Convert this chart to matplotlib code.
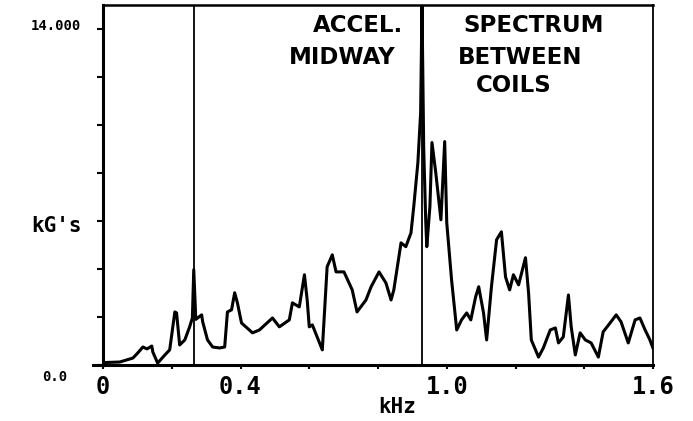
import matplotlib
matplotlib.use("Agg")
import matplotlib.pyplot as plt
from matplotlib.lines import Line2D

# ---- data ----
freq_khz = [0.000, 0.049, 0.087, 0.101, 0.116, 0.128, 0.142, 0.145, 0.159, 0.180,
            0.194, 0.209, 0.214, 0.223, 0.238, 0.252, 0.260, 0.264, 0.270, 0.287,
            0.290, 0.304, 0.319, 0.339, 0.354, 0.362, 0.374, 0.383, 0.391, 0.403,
            0.435, 0.455, 0.493, 0.513, 0.542, 0.551, 0.571, 0.586, 0.594, 0.600,
            0.609, 0.638, 0.652, 0.667, 0.678, 0.701, 0.725, 0.739, 0.765, 0.780,
            0.803, 0.823, 0.838, 0.846, 0.855, 0.867, 0.881, 0.896, 0.904, 0.916,
            0.924, 0.928, 0.933, 0.939, 0.942, 0.951, 0.957, 0.968, 0.983, 0.994,
            1.000, 1.014, 1.029, 1.043, 1.058, 1.070, 1.084, 1.093, 1.107, 1.116,
            1.130, 1.145, 1.159, 1.171, 1.183, 1.194, 1.209, 1.229, 1.238, 1.246,
            1.267, 1.281, 1.301, 1.316, 1.325, 1.339, 1.354, 1.362, 1.374, 1.388,
            1.403, 1.420, 1.441, 1.455, 1.475, 1.493, 1.507, 1.528, 1.548, 1.562,
            1.577, 1.591, 1.600]
accel_g = [100, 125, 290, 500, 750, 670, 790, 540, 80, 420,
           630, 2210, 2170, 835, 1045, 1590, 1960, 3970, 1900, 2090,
           1800, 1045, 750, 710, 750, 2210, 2300, 3010, 2590, 1750,
           1340, 1460, 1960, 1590, 1880, 2590, 2420, 3760, 2710, 1590,
           1670, 630, 4090, 4590, 3880, 3880, 3130, 2210, 2710, 3260,
           3880, 3420, 2710, 3130, 3970, 5090, 4930, 5510, 6600, 8430,
           10500, 15000, 9000, 5930, 4930, 6600, 9270, 8020, 6050, 9310,
           5930, 3550, 1460, 1880, 2170, 1880, 2840, 3260, 2170, 1045,
           3260, 5220, 5550, 3670, 3130, 3760, 3340, 4470, 3010, 1045,
           330, 710, 1460, 1545, 920, 1170, 2920, 1590, 420, 1340,
           1045, 920, 330, 1380, 1750, 2090, 1800, 920, 1880, 1960,
           1460, 1045, 700]
marker_khz = [0.264, 0.928]

x_ticks = [0.0, 0.2, 0.4, 0.6, 0.8, 1.0, 1.2, 1.4, 1.6]
x_labels = ["0", "", "0.4", "", "", "1.0", "", "", "1.6"]
y_ticks = [0, 2000, 4000, 6000, 8000, 10000, 12000, 14000]
y_label_bottom = "0.0"
y_label_top = "14.000"

fig = plt.figure(figsize=(6.93, 4.21), dpi=100)
ax = fig.add_axes([103/693, 56/421, 550/693, 360/421])

ax.plot(freq_khz, accel_g, color="black", lw=2.2, solid_joinstyle="round")
for m in marker_khz:
    ax.axvline(m, color="black", lw=1.3)

ax.set_xlim(0, 1.6)
ax.set_ylim(0, 15000)

ax.set_xticks(x_ticks)
ax.set_xticklabels(x_labels, fontfamily="DejaVu Sans Mono", fontweight="bold", fontsize=17)
ax.set_yticks(y_ticks)
ax.set_yticklabels([""] * len(y_ticks))
ax.tick_params(axis="x", direction="out", length=3, width=1.5, pad=4)
ax.tick_params(axis="y", direction="out", length=4, width=1.5, pad=8)

for s in ["left", "bottom"]:
    ax.spines[s].set_linewidth(2.2)
ax.spines["top"].set_linewidth(1.8)
ax.spines["right"].set_linewidth(1.3)

# bottom axis extends a bit to the left
ax.add_line(Line2D([-0.018, 0], [0, 0], transform=ax.transAxes, color="black",
                   lw=2.2, clip_on=False))

ylab = dict(fontfamily="DejaVu Sans Mono", fontweight="bold", ha="center", va="center")
fig.text(56/693, 1 - 26/421, y_label_top, fontsize=10, **ylab)
fig.text(55/693, 1 - 377/421, y_label_bottom, fontsize=10, **ylab)

fig.text(397/693, 1 - 407/421, "kHz", ha="center", va="center",
         fontfamily="DejaVu Sans Mono", fontweight="bold", fontsize=15)
fig.text(56/693, 1 - 226/421, "kG's", ha="center", va="center",
         fontfamily="DejaVu Sans Mono", fontweight="bold", fontsize=15)

ann = dict(fontfamily="DejaVu Sans", fontweight="bold", fontsize=16.5, va="center")
fig.text(403/693, 1 - 25/421, "ACCEL.", ha="right", **ann)
fig.text(395/693, 1 - 58/421, "MIDWAY", ha="right", **ann)
fig.text(534/693, 1 - 25/421, "SPECTRUM", ha="center", **ann)
fig.text(520/693, 1 - 58/421, "BETWEEN", ha="center", **ann)
fig.text(514/693, 1 - 86/421, "COILS", ha="center", **ann)

fig.savefig("out.png", dpi=100)
